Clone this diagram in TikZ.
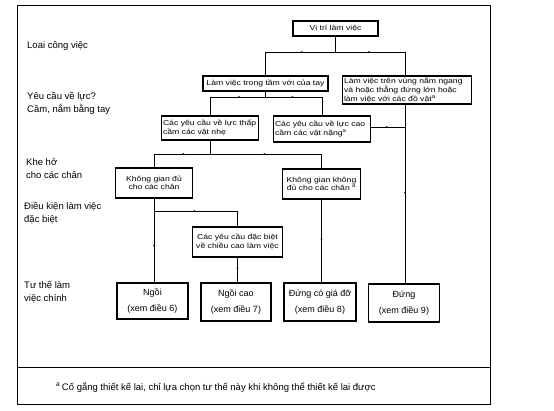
\documentclass[tikz,border=0pt]{standalone}
\usepackage{fontspec}
\setmainfont{Liberation Sans}
\newfontfamily\boxfont[FakeStretch=1.2]{Liberation Sans}
\usetikzlibrary{arrows.meta,decorations.markings}
\tikzset{
  box/.style={draw, line width=1.1pt, inner sep=1.5pt, font=\boxfont\fontsize{7.2}{8.6}\selectfont},
  bigbox/.style={draw, line width=1.1pt, inner sep=1.5pt, align=center, font=\fontsize{9}{16}\selectfont},
  lbl/.style={anchor=west, align=left, inner sep=0pt, font=\fontsize{9.5}{13}\selectfont},
  con/.style={line width=0.7pt, postaction={decorate},
    decoration={markings, mark=at position 0.5 with {\arrow{Stealth[length=2.2pt,width=2pt]}}}},
  plain/.style={line width=0.7pt},
}
\begin{document}
\begin{tikzpicture}[x=1pt,y=-1pt]
\useasboundingbox (0,0) rectangle (554,411);
% frame
\draw[line width=1pt] (17,6) rectangle (490,404);
\draw[line width=1pt] (17,368) -- (490,368);
% left labels
\node[lbl] (l1) at (27,46) {Loai công việc};
\node[lbl] (l2) at (27,103.5) {Yêu cầu về lực?\\Cầm, nắm bằng tay};
\node[lbl] (l3) at (26,168) {Khe hở\\cho các chân};
\node[lbl] (l4) at (24,213.5) {Điều kiện làm việc\\đặc biệt};
\node[lbl] (l5) at (24,292.5) {Tư thế làm\\việc chính};
% boxes
\node[box, minimum width=85pt, minimum height=15pt] (top) at (335.5,28.5) {Vị trí làm việc};
\node[box, minimum width=125pt, minimum height=15pt] (m1) at (265.5,83.5) {Làm việc trong tầm với của tay};
\node[box, text width=126pt, minimum height=28pt, align=left] (m2) at (407,90) {Làm việc trên vùng nằm ngang\\và hoặc thẳng đứng lớn hoặc\\làm việc với các đồ vật\textsuperscript{a}};
\node[box, text width=94pt, minimum height=24pt, align=left] (f1) at (210,128) {Các yêu cầu về lực thấp\\cầm các vật nhẹ};
\node[box, text width=94pt, minimum height=26pt, align=left] (f2) at (322,129) {Các yêu cầu về lực cao\\cầm các vật nặng\textsuperscript{a}};
\node[box, text width=74pt, minimum height=30pt, align=center] (k1) at (154,183) {Không gian đủ\\cho các chân};
\node[box, text width=75pt, minimum height=30pt, align=center] (k2) at (321.5,184) {Không gian không\\đủ cho các chân \textsuperscript{a}};
\node[box, text width=87pt, minimum height=30pt, align=center] (s) at (237.5,242) {Các yêu cầu đặc biệt\\về chiều cao làm việc};
\node[bigbox, minimum width=71pt, minimum height=36pt] (b1) at (152.5,301) {Ngồi\\(xem điều 6)};
\node[bigbox, minimum width=70pt, minimum height=38pt] (b2) at (236,302) {Ngồi cao\\(xem điều 7)};
\node[bigbox, minimum width=72pt, minimum height=38pt] (b3) at (320,302) {Đứng có giá đỡ\\(xem điều 8)};
\node[bigbox, minimum width=71pt, minimum height=38pt] (b4) at (404,303) {Đứng\\(xem điều 9)};
% footer
\node[anchor=west, inner sep=0pt, font=\fontsize{9.5}{11}\selectfont] (fn) at (56,387) {\textsuperscript{a}\,Cố gắng thiết kế lai, chỉ lựa chọn tư thế này khi không thể thiết kế lai được};
% junctions
\coordinate (j1) at (335.5,52);
\coordinate (j1l) at (265.5,52);
\coordinate (j1r) at (405,52);
\coordinate (j2) at (265.5,97);
\coordinate (j2l) at (210,97);
\coordinate (j2r) at (322,97);
\coordinate (j3) at (210,154);
\coordinate (j3l) at (154,154);
\coordinate (j3r) at (321.5,154);
\coordinate (j4) at (154,211);
\coordinate (j4r) at (237.5,211);
\coordinate (j5) at (405,127);
% connectors
\draw[plain] (top.south) -- (j1);
\draw[con] (j1) -- (j1l); \draw[plain] (j1l) -- (m1.north);
\draw[con] (j1) -- (j1r); \draw[plain] (j1r) -- (j1r |- m2.north);
\draw[plain] (m1.south) -- (j2);
\draw[con] (j2) -- (j2l); \draw[plain] (j2l) -- (f1.north);
\draw[con] (j2) -- (j2r); \draw[plain] (j2r) -- (f2.north);
\draw[plain] (f1.south) -- (j3);
\draw[con] (j3) -- (j3l); \draw[plain] (j3l) -- (k1.north);
\draw[con] (j3) -- (j3r); \draw[plain] (j3r) -- (k2.north);
\draw[plain] (k1.south) -- (j4);
\draw[con] (j4) -- (j4r); \draw[plain] (j4r) -- (s.north);
\draw[con] (j4) -- (j4 |- b1.north);
\draw[con] (s.south) -- (s.south |- b2.north);
\draw[con] (k2.south) -- (k2.south |- b3.north);
\draw[con] (j1r |- m2.south) -- (j1r |- b4.north);
\draw[con] (f2.east |- j5) -- (j5);
\end{tikzpicture}
\end{document}
